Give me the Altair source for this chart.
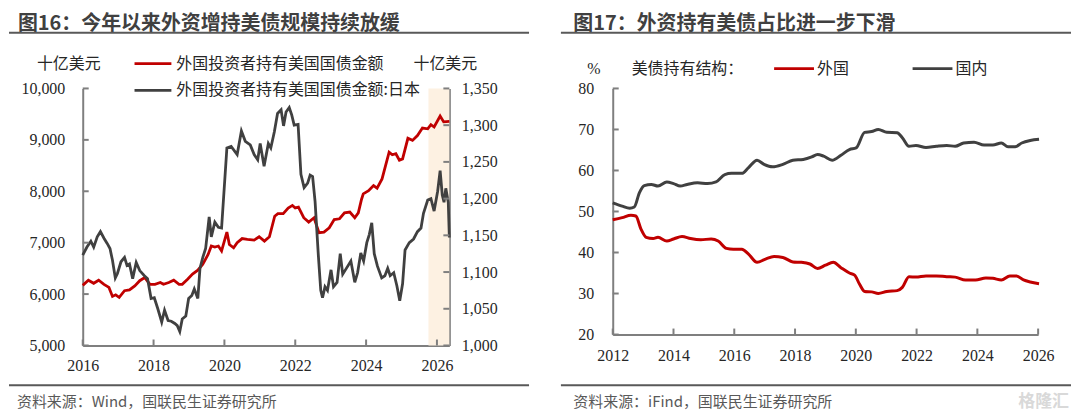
import altair as alt
import pandas as pd

# ---------------- data: left panel (图16) ----------------
hold_year = [2016.00, 2016.16, 2016.31, 2016.45, 2016.60, 2016.74, 2016.84, 2016.93, 2017.03, 2017.18,
             2017.32, 2017.47, 2017.61, 2017.75, 2017.90, 2018.04, 2018.19, 2018.28, 2018.43, 2018.57,
             2018.72, 2018.81, 2018.96, 2019.10, 2019.25, 2019.39, 2019.54, 2019.63, 2019.73, 2019.83,
             2019.92, 2020.07, 2020.14, 2020.26, 2020.36, 2020.50, 2020.65, 2020.84, 2020.98, 2021.13,
             2021.27, 2021.42, 2021.51, 2021.66, 2021.80, 2021.92, 2022.00, 2022.09, 2022.24, 2022.38,
             2022.53, 2022.67, 2022.81, 2022.96, 2023.10, 2023.25, 2023.39, 2023.54, 2023.68, 2023.78,
             2023.87, 2023.92, 2024.07, 2024.21, 2024.31, 2024.45, 2024.65, 2024.74, 2024.84, 2024.94,
             2025.03, 2025.18, 2025.31, 2025.45, 2025.59, 2025.74, 2025.83, 2025.92, 2026.09, 2026.19,
             2026.35]
hold_total = [6170, 6270, 6210, 6270, 6190, 6130, 5955, 5985, 5935, 6065,
              6080, 6160, 6260, 6320, 6190, 6190, 6225, 6190, 6225, 6270,
              6190, 6190, 6290, 6390, 6465, 6580, 6770, 6935, 6915, 6935,
              6840, 7205, 6965, 6900, 7000, 7080, 7065, 7050, 7115, 7030,
              7115, 7515, 7565, 7565, 7675, 7725, 7675, 7690, 7485, 7400,
              7485, 7195, 7205, 7290, 7450, 7465, 7580, 7595, 7485, 7580,
              7840, 7950, 8010, 8110, 8060, 8240, 8760, 8710, 8730, 8605,
              8630, 9030, 8990, 9085, 9230, 9215, 9295, 9250, 9465, 9350,
              9360]

japan_year = [2016.00, 2016.12, 2016.23, 2016.31, 2016.41, 2016.50, 2016.60, 2016.69, 2016.77, 2016.84,
              2016.92, 2016.98, 2017.08, 2017.18, 2017.25, 2017.32, 2017.41, 2017.51, 2017.61, 2017.74,
              2017.83, 2017.93, 2018.02, 2018.12, 2018.23, 2018.31, 2018.41, 2018.50, 2018.60, 2018.67,
              2018.74, 2018.81, 2018.91, 2018.99, 2019.08, 2019.15, 2019.25, 2019.31, 2019.39, 2019.47,
              2019.57, 2019.63, 2019.73, 2019.83, 2019.92, 2020.07, 2020.19, 2020.36, 2020.48, 2020.59,
              2020.73, 2020.84, 2020.94, 2021.01, 2021.12, 2021.24, 2021.31, 2021.41, 2021.50, 2021.60,
              2021.67, 2021.74, 2021.83, 2021.90, 2021.97, 2022.08, 2022.16, 2022.25, 2022.35, 2022.42,
              2022.49, 2022.56, 2022.65, 2022.72, 2022.77, 2022.84, 2022.91, 2023.01, 2023.08, 2023.18,
              2023.27, 2023.34, 2023.43, 2023.57, 2023.68, 2023.76, 2023.85, 2023.93, 2024.02, 2024.09,
              2024.16, 2024.23, 2024.32, 2024.44, 2024.53, 2024.61, 2024.68, 2024.78, 2024.87, 2024.95,
              2025.03, 2025.10, 2025.22, 2025.34, 2025.45, 2025.55, 2025.62, 2025.74, 2025.83, 2025.92,
              2026.02, 2026.09, 2026.15, 2026.20, 2026.25, 2026.32, 2026.35]
japan_val = [1123, 1134, 1142, 1134, 1148, 1155, 1146, 1139, 1132, 1116,
             1092, 1098, 1114, 1120, 1109, 1111, 1091, 1113, 1102, 1095,
             1091, 1064, 1065, 1050, 1032, 1048, 1034, 1033, 1030, 1027,
             1019, 1036, 1040, 1064, 1068, 1077, 1064, 1105, 1120, 1132,
             1175, 1148, 1168, 1161, 1160, 1269, 1271, 1260, 1292, 1278,
             1273, 1260, 1253, 1275, 1244, 1275, 1269, 1291, 1316, 1321,
             1299, 1318, 1324, 1314, 1300, 1301, 1233, 1215, 1221, 1232,
             1230, 1196, 1124, 1075, 1065, 1080, 1075, 1103, 1080, 1086,
             1125, 1097, 1104, 1115, 1086, 1099, 1126, 1115, 1140, 1151,
             1167, 1125, 1108, 1092, 1095, 1105, 1095, 1099, 1081, 1061,
             1084, 1130, 1140, 1145, 1155, 1160, 1180, 1198, 1200, 1183,
             1210, 1238, 1205, 1195, 1214, 1195, 1147]

left_x_ticks = [2016, 2018, 2020, 2022, 2024, 2026]
left_y_ticks = [5000, 6000, 7000, 8000, 9000, 10000]
right_y_ticks = [1000, 1050, 1100, 1150, 1200, 1250, 1300, 1350]
shade_start = [2025.76]
shade_end = [2026.35]

# ---------------- data: right panel (图17) ----------------
dom_year = [2012.00, 2012.31, 2012.56, 2012.71, 2012.88, 2013.04, 2013.27, 2013.49, 2013.78, 2014.00,
            2014.22, 2014.45, 2014.79, 2015.12, 2015.40, 2015.69, 2015.91, 2016.25, 2016.47, 2016.75,
            2016.98, 2017.26, 2017.60, 2017.93, 2018.27, 2018.55, 2018.74, 2018.94, 2019.22, 2019.51,
            2019.79, 2020.01, 2020.29, 2020.52, 2020.74, 2021.02, 2021.36, 2021.53, 2021.75, 2021.98,
            2022.31, 2022.65, 2022.99, 2023.27, 2023.55, 2023.89, 2024.22, 2024.51, 2024.79, 2025.01,
            2025.24, 2025.46, 2025.74, 2026.03]
dom_share = [52.1, 51.3, 50.8, 51.1, 54.6, 56.3, 56.6, 56.2, 57.2, 56.8,
             56.2, 56.6, 57.0, 56.8, 57.2, 59.0, 59.3, 59.3, 60.7, 62.5,
             61.5, 60.9, 61.5, 62.5, 62.7, 63.3, 63.9, 63.5, 62.5, 63.7,
             65.1, 65.5, 69.3, 69.5, 70.0, 69.3, 69.2, 68.0, 65.9, 66.1,
             65.6, 65.9, 66.1, 65.9, 66.7, 66.9, 66.2, 66.2, 66.7, 65.8,
             65.8, 66.7, 67.3, 67.6]

for_year = [2012.00, 2012.31, 2012.60, 2012.76, 2012.93, 2013.10, 2013.33, 2013.49, 2013.78, 2014.00,
            2014.28, 2014.56, 2014.90, 2015.24, 2015.47, 2015.74, 2015.97, 2016.25, 2016.47, 2016.75,
            2017.03, 2017.31, 2017.60, 2017.93, 2018.21, 2018.49, 2018.74, 2019.00, 2019.26, 2019.51,
            2019.79, 2019.96, 2020.12, 2020.29, 2020.52, 2020.74, 2021.02, 2021.36, 2021.53, 2021.75,
            2021.98, 2022.31, 2022.65, 2022.99, 2023.27, 2023.61, 2023.94, 2024.28, 2024.51, 2024.79,
            2025.07, 2025.29, 2025.52, 2025.74, 2026.03]
for_share = [48.0, 48.5, 49.1, 48.9, 45.7, 43.7, 43.4, 43.7, 42.8, 43.3,
             43.9, 43.4, 43.1, 43.3, 42.8, 41.0, 40.8, 40.8, 39.6, 37.6,
             38.4, 39.0, 38.8, 37.7, 37.6, 37.2, 36.1, 36.9, 37.6, 36.3,
             35.0, 34.5, 32.3, 30.5, 30.4, 30.0, 30.5, 30.7, 31.5, 34.1,
             34.0, 34.3, 34.3, 34.1, 34.0, 33.3, 33.3, 33.8, 33.7, 33.3,
             34.3, 34.3, 33.3, 32.8, 32.4]

r_x_ticks = [2012, 2014, 2016, 2018, 2020, 2022, 2024, 2026]
r_y_ticks = [20, 30, 40, 50, 60, 70, 80]

# ---------------- styling ----------------
CJK = "Noto Sans CJK SC"
SERIF = "Liberation Serif"
RED = "#C00000"
DARK = "#404040"
AXIS = "#7f7f7f"
TXT = "#262626"
LW, LH = 368, 258
RW, RH = 427, 247


def text_layer(txt, x, y, size=16, color=TXT, weight="normal", align="left",
               font=CJK, baseline="middle"):
    return alt.Chart(pd.DataFrame({"t": [txt]})).mark_text(
        align=align, baseline=baseline, font=font, fontSize=size,
        fontWeight=weight, color=color
    ).encode(text="t:N", x=alt.value(x), y=alt.value(y))


def hrule(x1, x2, y, color, width):
    return alt.Chart(pd.DataFrame({"a": [0]})).mark_rule(
        color=color, strokeWidth=width
    ).encode(x=alt.value(x1), x2=alt.value(x2), y=alt.value(y))


def axis(values, fmt, orient, pad):
    return alt.Axis(values=values, format=fmt, orient=orient, title=None, ticks=False,
                    grid=False, labelPadding=pad, domainColor=AXIS, domainWidth=2,
                    labelFont=SERIF, labelFontSize=16, labelColor=TXT,
                    labelFlush=False, labelOverlap=False)


# ---------------- left panel ----------------
xs_l = alt.Scale(domain=[2016, 2026.35], nice=False, zero=False)
ys_l = alt.Scale(domain=[5000, 10000], nice=False, zero=False)
ys_r = alt.Scale(domain=[1000, 1350], nice=False, zero=False)
xax_l = axis(left_x_ticks, "d", "bottom", 12)

shade = alt.Chart(pd.DataFrame({"s": shade_start, "e": shade_end})).mark_rect(
    color="#FDF1E2").encode(
    x=alt.X("s:Q", scale=xs_l, axis=xax_l), x2="e:Q",
    y=alt.value(0), y2=alt.value(LH))

red_line = alt.Chart(pd.DataFrame({"year": hold_year, "v": hold_total})).mark_line(
    color=RED, strokeWidth=2.8).encode(
    x=alt.X("year:Q", scale=xs_l, axis=xax_l),
    y=alt.Y("v:Q", scale=ys_l, axis=axis(left_y_ticks, ",d", "left", 18)))

jp_line = alt.Chart(pd.DataFrame({"year": japan_year, "v": japan_val})).mark_line(
    color=DARK, strokeWidth=2.8).encode(
    x=alt.X("year:Q", scale=xs_l, axis=xax_l),
    y=alt.Y("v:Q", scale=ys_r, axis=axis(right_y_ticks, ",d", "right", 12)))

lxt = alt.Chart(pd.DataFrame({"t": left_x_ticks})).mark_rule(color=AXIS, strokeWidth=2).encode(
    x=alt.X("t:Q", scale=xs_l, axis=xax_l), y=alt.value(LH), y2=alt.value(LH - 6))
lyt = alt.Chart(pd.DataFrame({"t": left_y_ticks})).mark_rule(color=AXIS, strokeWidth=2).encode(
    y=alt.Y("t:Q", scale=ys_l, axis=None), x=alt.value(0), x2=alt.value(6))
ryt = alt.Chart(pd.DataFrame({"t": right_y_ticks})).mark_rule(color=AXIS, strokeWidth=2).encode(
    y=alt.Y("t:Q", scale=ys_r, axis=None), x=alt.value(LW), x2=alt.value(LW - 6))

left = alt.layer(
    shade, red_line, jp_line, lxt, lyt, ryt,
    text_layer("图16：今年以来外资增持美债规模持续放缓", -65, -59, size=20, color=DARK,
               weight="bold", baseline="alphabetic"),
    hrule(-74, 448, -56, "#595959", 2),
    text_layer("十亿美元", -14, -25, align="center"),
    text_layer("十亿美元", 364, -25, align="center"),
    hrule(52, 89, -25, RED, 2.8),
    text_layer("外国投资者持有美国国债金额", 94, -25),
    hrule(52, 89, 2, DARK, 2.8),
    text_layer("外国投资者持有美国国债金额:日本", 94, 2),
    hrule(-74, 448, 298, "#595959", 2),
    text_layer("资料来源：Wind，国联民生证券研究所", -66, 315, size=15, color="#595959"),
).resolve_scale(y="independent").properties(width=LW, height=LH)

# ---------------- right panel ----------------
xs_r = alt.Scale(domain=[2012, 2026], nice=False, zero=False)
ys_p = alt.Scale(domain=[20, 80], nice=False, zero=False)
xax_r = axis(r_x_ticks, "d", "bottom", 13)
yax_r = axis(r_y_ticks, "d", "left", 19)

for_line = alt.Chart(pd.DataFrame({"year": for_year, "v": for_share})).mark_line(
    color=RED, strokeWidth=3, interpolate="monotone").encode(
    x=alt.X("year:Q", scale=xs_r, axis=xax_r), y=alt.Y("v:Q", scale=ys_p, axis=yax_r))
dom_line = alt.Chart(pd.DataFrame({"year": dom_year, "v": dom_share})).mark_line(
    color=DARK, strokeWidth=3, interpolate="monotone").encode(
    x=alt.X("year:Q", scale=xs_r, axis=xax_r), y=alt.Y("v:Q", scale=ys_p, axis=yax_r))
rxt = alt.Chart(pd.DataFrame({"t": r_x_ticks})).mark_rule(color=AXIS, strokeWidth=2).encode(
    x=alt.X("t:Q", scale=xs_r, axis=xax_r), y=alt.value(RH), y2=alt.value(RH - 6))
ryt2 = alt.Chart(pd.DataFrame({"t": r_y_ticks})).mark_rule(color=AXIS, strokeWidth=2).encode(
    y=alt.Y("t:Q", scale=ys_p, axis=yax_r), x=alt.value(0), x2=alt.value(6))

right = alt.layer(
    for_line, dom_line, rxt, ryt2,
    text_layer("图17：外资持有美债占比进一步下滑", -39.5, -59, size=20, color=DARK,
               weight="bold", baseline="alphabetic"),
    hrule(-52, 460, -56, "#595959", 2),
    text_layer("%", -19, -20, align="center", font=SERIF),
    text_layer("美债持有结构：", 19, -20),
    hrule(162, 202, -20, RED, 2.8),
    text_layer("外国", 205, -20),
    hrule(301, 341, -20, DARK, 2.8),
    text_layer("国内", 344, -20),
    hrule(-52, 460, 298, "#595959", 2),
    text_layer("资料来源：iFind，国联民生证券研究所", -39.5, 315, size=15, color="#595959"),
    text_layer("格隆汇", 458, 315, size=17, color="#d9d9d9", align="right", weight="bold"),
).properties(width=RW, height=RH)

chart = alt.hconcat(left, right, spacing=30).properties(
    padding={"top": 5, "left": 0, "right": 0, "bottom": 0}
).configure_view(stroke=None).configure_axis(labelFont=SERIF)

chart.save("out.html", embed_options={"renderer": "svg", "actions": False})
